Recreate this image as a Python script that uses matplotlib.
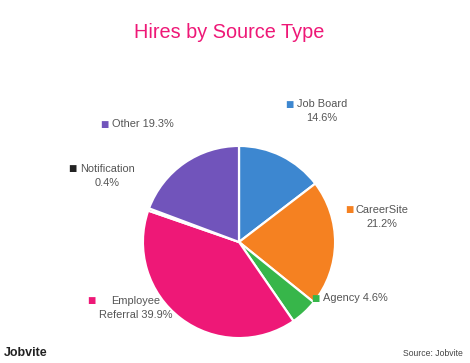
import matplotlib.pyplot as plt

# data
sources = ['Job Board', 'CareerSite', 'Agency', 'Employee Referral', 'Notification', 'Other']
shares = [14.6, 21.2, 4.6, 39.9, 0.4, 19.3]
colors = ['#3d87d0', '#f58121', '#37b64a', '#ee1877', '#222222', '#7154bb']

W, H = 470, 363
fig = plt.figure(figsize=(W / 100, H / 100), dpi=100)
plt.rcParams['font.family'] = ['Liberation Sans', 'DejaVu Sans']

# pie axes: center (239, 242) px from top, radius 98 px
cx, cy, r = 239, 242, 98
ax = fig.add_axes([(cx - r) / W, (H - cy - r) / H, 2 * r / W, 2 * r / H])
ax.pie(shares, colors=colors, startangle=90, counterclock=False, radius=1,
       wedgeprops=dict(edgecolor='white', linewidth=1.6))
ax.set_xlim(-1.02, 1.02)
ax.set_ylim(-1.02, 1.02)
ax.set_aspect('equal')
ax.axis('off')

def px(x, y):
    return x / W, 1 - y / H

fig.text(*px(229, 33), 'Hires by Source Type', color='#ee1877', fontsize=14.3,
         ha='center', va='center')

txt = '#555555'
fs = 7.9

def label(sq, line1, line1_x, line2=None, line2_c=None, ha1='left', color='k'):
    fig.text(*px(*sq), '■', color=color, fontsize=6.3, ha='center', va='center',
             family=['DejaVu Sans'])
    fig.text(*px(line1_x, sq[1]), line1, color=txt, fontsize=fs, ha=ha1, va='center')
    if line2:
        fig.text(*px(*line2_c), line2, color=txt, fontsize=fs, ha='center', va='center')

label((289, 104), 'Job Board', 297, '14.6%', (322, 118), color=colors[0])
label((349, 210), 'CareerSite', 356, '21.2%', (382, 224), color=colors[1])
label((315, 298), 'Agency 4.6%', 323, color=colors[2])
label((91, 301), 'Employee', 136, 'Referral 39.9%', (136, 315), ha1='center', color=colors[3])
label((72, 169), 'Notification', 80, '0.4%', (107, 183), color=colors[4])
label((104, 124), 'Other 19.3%', 112, color=colors[5])

fig.text(*px(4, 353), 'Jobvite', color='#222222', fontsize=9, fontweight='bold',
         ha='left', va='center')
fig.text(*px(463, 354), 'Source: Jobvite', color='#444444', fontsize=6.2,
         ha='right', va='center')

fig.savefig('out.png', dpi=100, facecolor='white')
